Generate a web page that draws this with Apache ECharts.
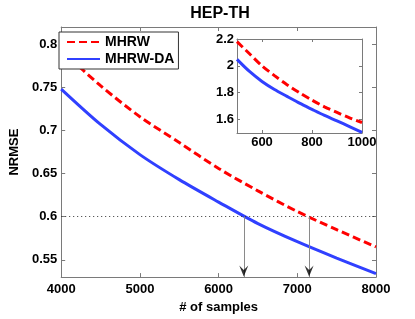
<!DOCTYPE html>
<html>
<head>
<meta charset="utf-8">
<script src="https://cdn.jsdelivr.net/npm/echarts@6/dist/echarts.min.js"></script>
<style>html,body{margin:0;padding:0;background:#fff}#c{width:415px;height:319px}</style>
</head>
<body>
<div id="c"></div>
<script>
// ---- data ----
const titleText = 'HEP-TH';
const seriesNames = ['MHRW', 'MHRW-DA'];
const mainX = [4000, 4500, 5000, 5500, 6000, 6500, 7000, 7500, 8000];
const mhrwMain = [0.793, 0.752, 0.716, 0.686, 0.656, 0.630, 0.606, 0.585, 0.565];
const mhrwDaMain = [0.748, 0.707, 0.672, 0.643, 0.617, 0.592, 0.571, 0.552, 0.534];
const insetX = [500, 550, 600, 650, 700, 750, 800, 850, 900, 950, 1000];
const mhrwInset = [2.18, 2.09, 2.00, 1.927, 1.860, 1.800, 1.745, 1.695, 1.653, 1.613, 1.578];
const mhrwDaInset = [2.048, 1.958, 1.884, 1.824, 1.773, 1.722, 1.676, 1.631, 1.590, 1.548, 1.505];
const mainYTicks = [0.55, 0.6, 0.65, 0.7, 0.75, 0.8];
const insetXTicks = [600, 800, 1000];
const insetYTicks = [1.6, 1.8, 2.0, 2.2];
const threshold = 0.6;
const crossX = [6320, 7150];

const FONT = '"Liberation Sans", Arial, Helvetica, sans-serif';
const RED = '#ff0000', BLUE = '#3040ff', AXIS = '#7a7a7a';
const pairs = (xs, ys) => xs.map((x, i) => [x, ys[i]]);
const plain = v => String(v);

const lab = (extra) => Object.assign({color: '#000', fontFamily: FONT, fontWeight: 'bold', fontSize: 13, formatter: plain}, extra || {});
function axisBase(extra) {
  return Object.assign({
    type: 'value',
    axisLine: {show: true, lineStyle: {color: AXIS, width: 1}},
    axisTick: {show: true, inside: true, length: 4, lineStyle: {color: AXIS}},
    splitLine: {show: false},
    axisLabel: {show: false}
  }, extra);
}

const chart = echarts.init(document.getElementById('c'), null, {renderer: 'canvas'});
const arrowPath = 'path://M0,0 L5,4.5 L10,0 L5,11 Z';

chart.setOption({
  animation: false,
  backgroundColor: '#fff',
  title: {
    text: titleText, left: 215, top: 1, textAlign: 'center',
    textStyle: {fontFamily: FONT, fontWeight: 'bold', fontSize: 16, color: '#000'}
  },
  legend: {
    data: seriesNames, orient: 'vertical', left: 59, top: 32,
    padding: [3, 4, 3, 7], itemGap: 3, itemWidth: 33, itemHeight: 14,
    borderColor: '#333', borderWidth: 1, backgroundColor: '#fff',
    itemStyle: {opacity: 0},
    textStyle: {fontFamily: FONT, fontWeight: 'bold', fontSize: 14, color: '#000'}
  },
  grid: [
    {left: 54, top: 27, width: 322, height: 256, show: false},
    {left: 237, top: 39, width: 125, height: 94, show: true, backgroundColor: '#fff', borderWidth: 0, z: 5}
  ],
  xAxis: [
    axisBase({gridIndex: 0, position: 'bottom', min: 4000, max: 8000, interval: 1000,
      axisLabel: lab({show: true, margin: 6}),
      name: '# of samples', nameLocation: 'middle', nameGap: 20,
      nameTextStyle: lab({fontSize: 13})}),
    axisBase({gridIndex: 0, position: 'top', min: 4000, max: 8000, interval: 1000}),
    axisBase({gridIndex: 1, position: 'bottom', min: 500, max: 1000, z: 6,
      axisTick: {show: true, inside: true, length: 3, lineStyle: {color: AXIS}, customValues: insetXTicks},
      axisLabel: lab({show: true, margin: 3, customValues: insetXTicks})}),
    axisBase({gridIndex: 1, position: 'top', min: 500, max: 1000, z: 6,
      axisTick: {show: true, inside: true, length: 3, lineStyle: {color: AXIS}, customValues: insetXTicks}})
  ],
  yAxis: [
    axisBase({gridIndex: 0, position: 'left', min: 0.53, max: 0.82,
      axisTick: {show: true, inside: true, length: 4, lineStyle: {color: AXIS}, customValues: mainYTicks},
      axisLabel: lab({show: true, margin: 4, customValues: mainYTicks}),
      name: 'NRMSE', nameLocation: 'middle', nameGap: 38,
      nameTextStyle: lab({fontSize: 13})}),
    axisBase({gridIndex: 0, position: 'right', min: 0.53, max: 0.82,
      axisTick: {show: true, inside: true, length: 4, lineStyle: {color: AXIS}, customValues: mainYTicks}}),
    axisBase({gridIndex: 1, position: 'left', min: 1.5, max: 2.2, z: 6,
      axisTick: {show: true, inside: true, length: 3, lineStyle: {color: AXIS}, customValues: insetYTicks},
      axisLabel: lab({show: true, margin: 3, customValues: insetYTicks})}),
    axisBase({gridIndex: 1, position: 'right', min: 1.5, max: 2.2, z: 6,
      axisTick: {show: true, inside: true, length: 3, lineStyle: {color: AXIS}, customValues: insetYTicks}})
  ],
  series: [
    {
      name: 'guide lines', type: 'line', xAxisIndex: 0, yAxisIndex: 0, silent: true,
      data: [], z: 1,
      markLine: {
        silent: true, symbol: 'none', animation: false, label: {show: false},
        data: [
          [{coord: [4000, threshold], lineStyle: {type: [1, 3], color: '#333', width: 1}},
           {coord: [8000, threshold]}],
          ...crossX.map(x => [{coord: [x, threshold], lineStyle: {type: 'solid', color: '#8a8a8a', width: 1}},
                               {coord: [x, 0.53]}])
        ]
      }
    },
    {
      name: 'arrow heads', type: 'scatter', xAxisIndex: 0, yAxisIndex: 0, silent: true,
      data: crossX.map(x => [x, 0.53]),
      symbol: arrowPath, symbolSize: [9, 11], symbolOffset: [0, -6],
      itemStyle: {color: '#000'}, z: 6
    },
    {
      name: seriesNames[0], type: 'line', xAxisIndex: 0, yAxisIndex: 0,
      data: pairs(mainX, mhrwMain), showSymbol: false, symbol: 'none', smooth: 0.3,
      lineStyle: {color: RED, width: 3, type: [8, 4]}, itemStyle: {color: RED}, z: 3
    },
    {
      name: seriesNames[1], type: 'line', xAxisIndex: 0, yAxisIndex: 0,
      data: pairs(mainX, mhrwDaMain), showSymbol: false, symbol: 'none', smooth: 0.3,
      lineStyle: {color: BLUE, width: 3}, itemStyle: {color: BLUE}, z: 3
    },
    {
      name: seriesNames[0] + ' (inset)', type: 'line', xAxisIndex: 2, yAxisIndex: 2,
      data: pairs(insetX, mhrwInset), showSymbol: false, symbol: 'none', smooth: 0.3,
      lineStyle: {color: RED, width: 3, type: [8, 4]}, itemStyle: {color: RED}, z: 7
    },
    {
      name: seriesNames[1] + ' (inset)', type: 'line', xAxisIndex: 2, yAxisIndex: 2,
      data: pairs(insetX, mhrwDaInset), showSymbol: false, symbol: 'none', smooth: 0.3,
      lineStyle: {color: BLUE, width: 3}, itemStyle: {color: BLUE}, z: 7
    }
  ]
});
</script>
</body>
</html>
